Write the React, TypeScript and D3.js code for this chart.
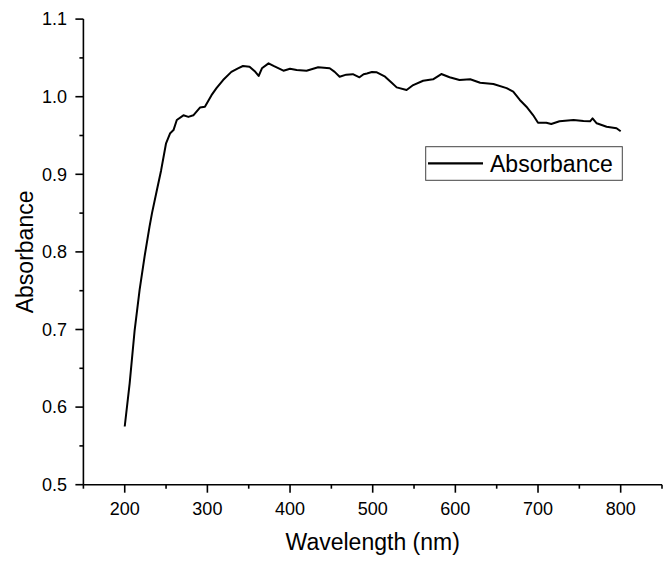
import React from "react";
import * as d3 from "d3";

const wavelengths = [
  200, 206, 212, 218, 224, 230, 233, 239, 244, 250, 255, 259, 263, 271, 277, 283, 291, 297,
  305, 311, 319, 329, 337, 343, 351, 358, 362, 366, 374, 380, 392, 400, 408, 420, 434, 448,
  454, 460, 468, 476, 484, 489, 493, 499, 505, 515, 523, 529, 541, 549, 561, 573, 583, 593,
  605, 618, 630, 646, 662, 670, 678, 686, 694, 700, 710, 716, 726, 743, 755, 763, 766, 771,
  783, 795, 800,
];
const absorbance = [
  0.575, 0.631, 0.699, 0.751, 0.794, 0.8325, 0.85, 0.88, 0.905, 0.94, 0.953, 0.957, 0.97,
  0.976, 0.974, 0.976, 0.986, 0.987, 1.002, 1.011, 1.0215, 1.032, 1.0366, 1.0396, 1.0387,
  1.032, 1.0267, 1.0366, 1.043, 1.0396, 1.0335, 1.036, 1.0344, 1.0335, 1.0379, 1.0366, 1.032,
  1.0258, 1.0284, 1.029, 1.025, 1.029, 1.03, 1.0318, 1.0314, 1.0258, 1.018, 1.012, 1.0086,
  1.015, 1.0206, 1.0224, 1.0292, 1.025, 1.0215, 1.0224, 1.018, 1.0164, 1.011, 1.0065, 0.9958,
  0.9871, 0.9764, 0.9665, 0.9665, 0.9648, 0.9683, 0.97, 0.9687, 0.9683, 0.972, 0.9657, 0.9613,
  0.9593, 0.9555,
];

const xMajorTicks = [200, 300, 400, 500, 600, 700, 800];
const xMinorTicks = [150, 250, 350, 450, 550, 650, 750, 850];
const yMajorTicks = [0.5, 0.6, 0.7, 0.8, 0.9, 1.0, 1.1];
const yMinorTicks = [0.55, 0.65, 0.75, 0.85, 0.95, 1.05];

const xTitle = "Wavelength (nm)";
const yTitle = "Absorbance";
const seriesName = "Absorbance";

const W = 663;
const H = 561;
const FONT = "'Liberation Sans', Arial, sans-serif";

export default function App() {
  const x = d3.scaleLinear().domain([150, 850]).range([83.4, 662]);
  const y = d3.scaleLinear().domain([0.5, 1.1]).range([484.7, 19.1]);
  const data = wavelengths.map((w, i) => [w, absorbance[i]] as [number, number]);
  const line = d3
    .line<[number, number]>()
    .x((d) => x(d[0]))
    .y((d) => y(d[1]));

  const x0 = x(150);
  const y0 = y(0.5);

  return (
    <svg
      width={W}
      height={H}
      style={{ position: "absolute", left: 0, top: 0, background: "#fff" }}
      fontFamily={FONT}
    >
      <rect x={0} y={0} width={W} height={H} fill="#fff" />
      {/* data line */}
      <path d={line(data) || ""} fill="none" stroke="#000" strokeWidth={2} strokeLinejoin="round" />

      {/* axes */}
      <line x1={x0} x2={x(850)} y1={y0} y2={y0} stroke="#000" strokeWidth={1.6} />
      <line x1={x0} x2={x0} y1={y(1.1)} y2={y0} stroke="#000" strokeWidth={1.6} />

      {xMajorTicks.map((t) => (
        <g key={"xm" + t}>
          <line x1={x(t)} x2={x(t)} y1={y0} y2={y0 + 8} stroke="#000" strokeWidth={1.6} />
          <text x={x(t)} y={515} fontSize={18} textAnchor="middle" fill="#000">
            {t}
          </text>
        </g>
      ))}
      {xMinorTicks.map((t) => (
        <line key={"xn" + t} x1={x(t)} x2={x(t)} y1={y0} y2={y0 + 4} stroke="#000" strokeWidth={1.6} />
      ))}
      {yMajorTicks.map((t) => (
        <g key={"ym" + t}>
          <line x1={x0 - 8} x2={x0} y1={y(t)} y2={y(t)} stroke="#000" strokeWidth={1.6} />
          <text x={67} y={y(t) + 6.3} fontSize={18} textAnchor="end" fill="#000">
            {t.toFixed(1)}
          </text>
        </g>
      ))}
      {yMinorTicks.map((t) => (
        <line key={"yn" + t} x1={x0 - 4} x2={x0} y1={y(t)} y2={y(t)} stroke="#000" strokeWidth={1.6} />
      ))}

      {/* axis titles */}
      <text x={(x0 + x(850)) / 2} y={550} fontSize={23} textAnchor="middle" fill="#000">
        {xTitle}
      </text>
      <text
        transform={`translate(33,${(y(0.5) + y(1.1)) / 2}) rotate(-90)`}
        fontSize={23}
        textAnchor="middle"
        fill="#000"
      >
        {yTitle}
      </text>

      {/* legend */}
      <rect x={425.7} y={146.7} width={196.6} height={33.6} fill="#fff" stroke="#444" strokeWidth={1} />
      <line x1={428} x2={483} y1={163.3} y2={163.3} stroke="#000" strokeWidth={2.2} />
      <text x={490} y={171.5} fontSize={23} fill="#000">
        {seriesName}
      </text>
    </svg>
  );
}
